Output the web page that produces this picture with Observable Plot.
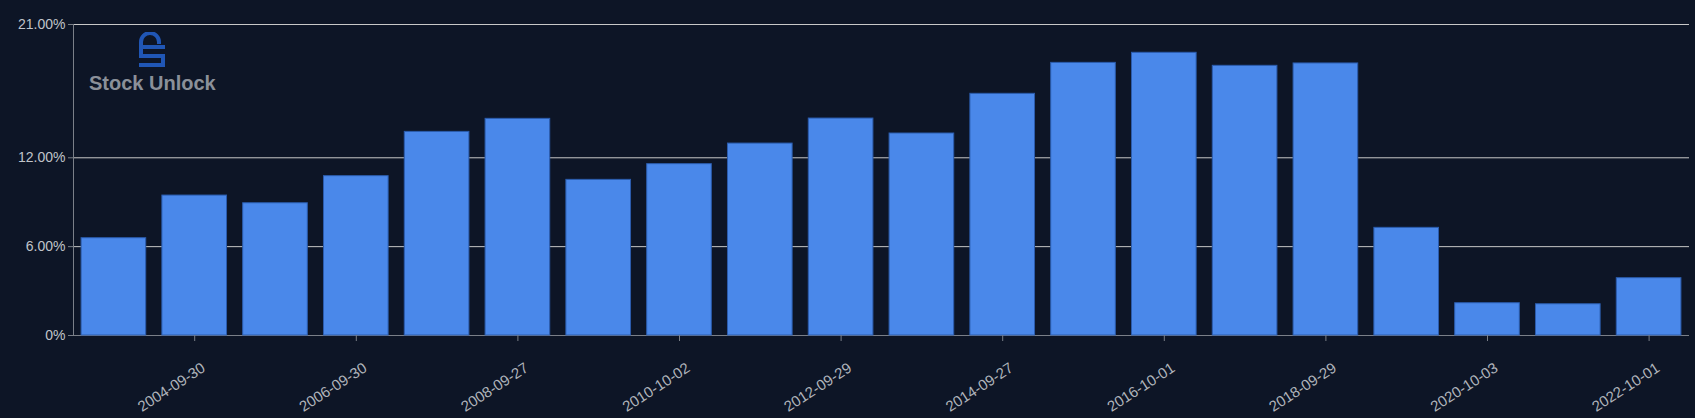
<!DOCTYPE html>
<html>
<head>
<meta charset="utf-8">
<script src="https://cdn.jsdelivr.net/npm/d3@7"></script>
<script src="https://cdn.jsdelivr.net/npm/@observablehq/plot@0.6"></script>
<style>
  html, body { margin: 0; padding: 0; background: #0d1526; }
  #wrap { position: relative; width: 1695px; height: 418px; }
  #logo { position: absolute; left: 0; top: 0; pointer-events: none; }
  #logo .name { position: absolute; left: 89px; top: 71px; font: bold 20px "Liberation Sans", Arial, sans-serif; color: #8b9099; white-space: nowrap; line-height: 24px; }
</style>
</head>
<body>
<div id="wrap">
  <div id="chart"></div>
  <div id="logo">
    <svg style="position:absolute;left:137px;top:32px" width="30" height="38" viewBox="0 0 30 38">
      <g fill="none" stroke="#2056b5" stroke-width="4" stroke-linecap="butt">
        <path d="M4,15 V10 A9,9 0 0 1 22,10 V12"/>
        <path d="M2,15 H28"/>
        <path d="M4,15 V24"/>
        <path d="M2,24 H26"/>
        <path d="M26,22 V33"/>
        <path d="M2,33 H28"/>
      </g>
    </svg>
    <div class="name">Stock Unlock</div>
  </div>
</div>
<script>
const dates = ["2003-09-27","2004-09-30","2005-10-01","2006-09-30","2007-09-29","2008-09-27","2009-10-03","2010-10-02","2011-10-01","2012-09-29","2013-09-28","2014-09-27","2015-10-03","2016-10-01","2017-09-30","2018-09-29","2019-09-28","2020-10-03","2021-10-02","2022-10-01"];
const values = [6.57, 9.45, 8.93, 10.76, 13.75, 14.63, 10.51, 11.57, 12.96, 14.65, 13.64, 16.32, 18.41, 19.09, 18.21, 18.37, 7.27, 2.18, 2.11, 3.87];
const xTickLabels = ["2004-09-30","2006-09-30","2008-09-27","2010-10-02","2012-09-29","2014-09-27","2016-10-01","2018-09-29","2020-10-03","2022-10-01"];
const yTicks = [0, 6, 12, 21];

const data = dates.map((d, i) => ({date: d, value: values[i]}));

const chart = Plot.plot({
  width: 1695,
  height: 418,
  marginLeft: 73,
  marginRight: 6,
  marginTop: 24,
  marginBottom: 83,
  style: {background: "#0d1526", color: "#b8bcc4", fontFamily: "'Liberation Sans', Arial, sans-serif", fontSize: "14px"},
  x: {type: "band", domain: dates, paddingInner: 0.2, paddingOuter: 0.1, round: false, label: null},
  y: {domain: [0, 21], label: null},
  marks: [
    Plot.gridY(yTicks, {stroke: "#c8c8c8", strokeOpacity: 1}),
    Plot.frame({anchor: "left", stroke: "#7a7f88"}),
    Plot.ruleY([0], {stroke: "#7a7f88"}),
    Plot.barY(data, {x: "date", y: "value", fill: "#4a88ea", stroke: "#2b5cad", strokeWidth: 1}),
    Plot.axisY({ticks: yTicks, tickSize: 5, tickPadding: 3, stroke: "#7a7f88", fill: "#c0c4ca", fontSize: 14, tickFormat: d => d === 0 ? "0%" : d.toFixed(2) + "%"}),
    Plot.axisX({ticks: xTickLabels, tickSize: 6, stroke: "#7a7f88", text: null}),
    Plot.axisX({ticks: xTickLabels, tickSize: 0, tickPadding: 10, tickRotate: -33, fill: "#b0b4bb", fontSize: 15, dx: 9, dy: 21})
  ]
});
document.getElementById("chart").appendChild(chart);
</script>
</body>
</html>
